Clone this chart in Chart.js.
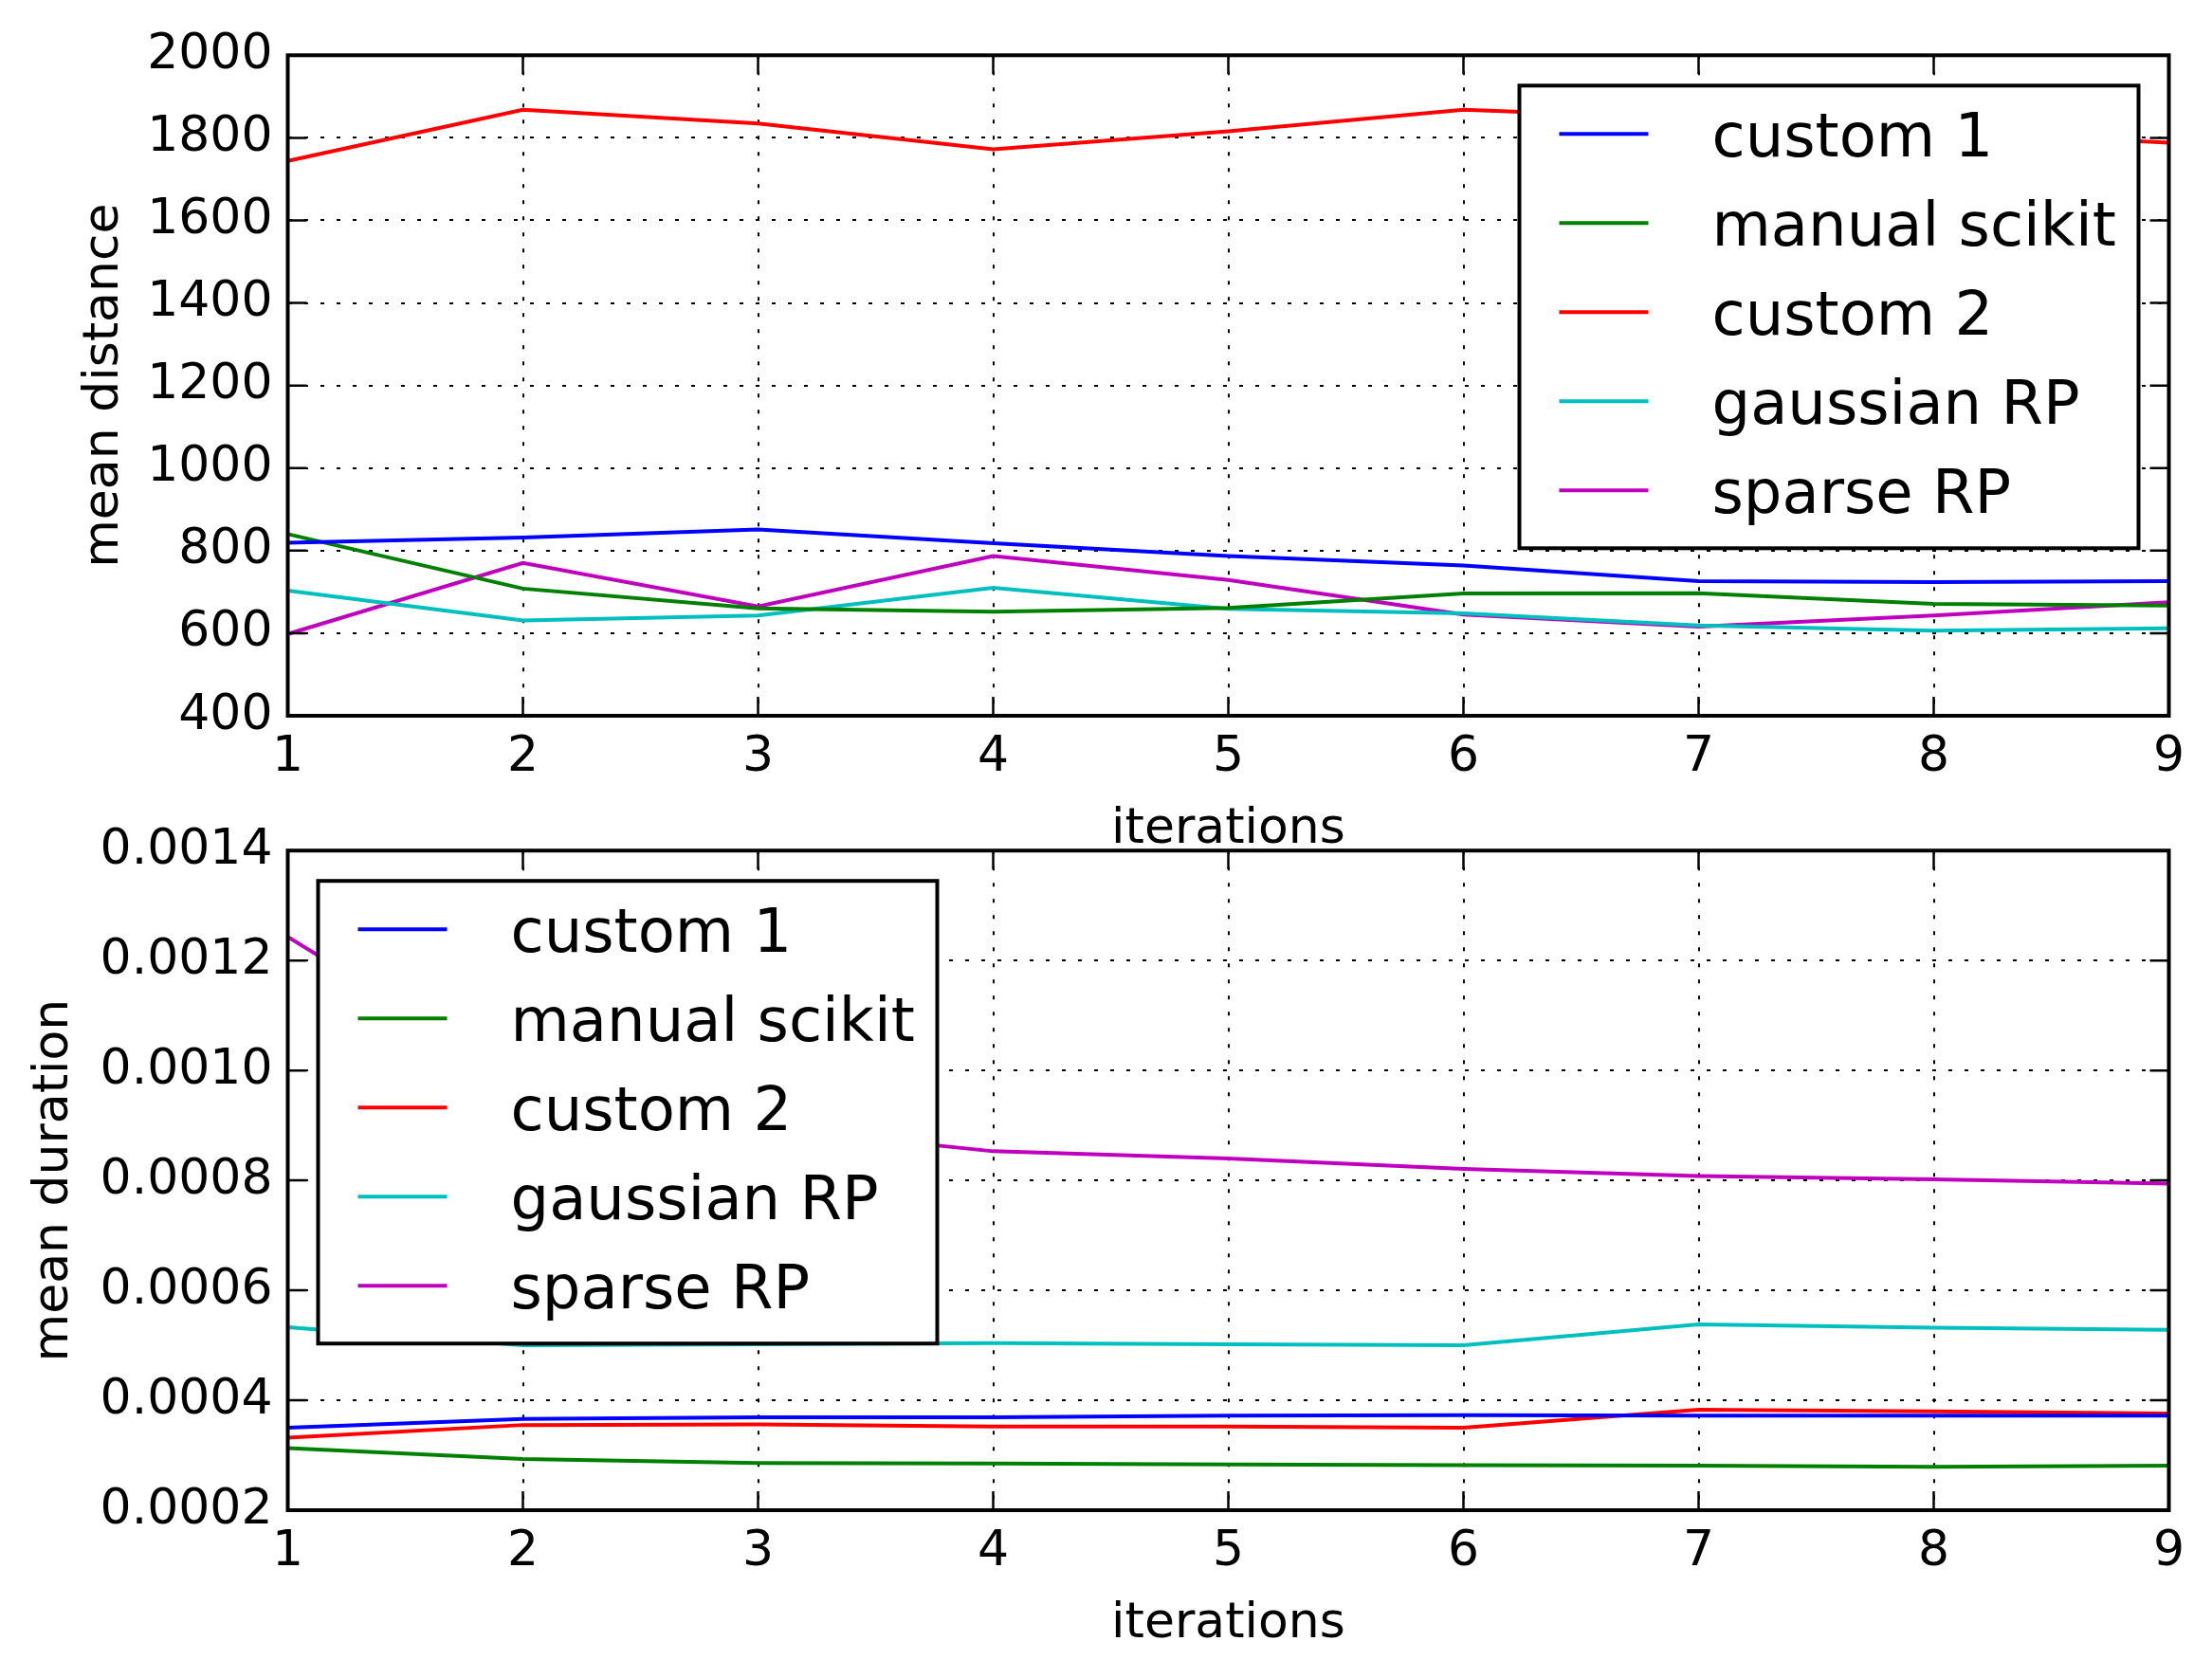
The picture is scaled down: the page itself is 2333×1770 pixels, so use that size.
<!DOCTYPE html>
<html><head><meta charset="utf-8">
<script src="https://cdn.jsdelivr.net/npm/chart.js@4.4.1/dist/chart.umd.min.js"></script>
<style>
html,body{margin:0;padding:0;background:#fff;}
body{width:2333px;height:1770px;position:relative;overflow:hidden;}
canvas{position:absolute;left:0;}
</style></head><body>
<canvas id="c1" width="2333" height="907" style="top:0px"></canvas>
<canvas id="c2" width="2333" height="895" style="top:850px"></canvas>
<script>
// ---------- data ----------
const iterations = [1, 2, 3, 4, 5, 6, 7, 8, 9];
const seriesNames = ['custom 1', 'manual scikit', 'custom 2', 'gaussian RP', 'sparse RP'];
const seriesColors = ['#0000ff', '#008000', '#ff0000', '#00bfbf', '#bf00bf'];

// mean distance (top panel)
const distCustom1  = [819, 832, 851, 818, 787, 764, 726, 724, 726];
const distManual   = [840, 708, 660, 652, 661, 696, 697, 671, 667];
const distCustom2  = [1744, 1868, 1835, 1772, 1816, 1868, 1847, 1816, 1788];
const distGaussian = [703, 631, 643, 710, 659, 648, 619, 606, 612];
const distSparse   = [598, 770, 665, 787, 729, 645, 616, 643, 675];

// mean duration (bottom panel)
const durCustom1  = [0.000350, 0.000366, 0.000369, 0.000369, 0.000372, 0.000373, 0.000372, 0.000372, 0.000372];
const durManual   = [0.000313, 0.000293, 0.000286, 0.000285, 0.000283, 0.000282, 0.000281, 0.000279, 0.000281];
const durCustom2  = [0.000332, 0.000355, 0.000356, 0.000352, 0.000352, 0.000350, 0.000383, 0.000380, 0.000376];
const durGaussian = [0.000533, 0.000500, 0.000502, 0.000504, 0.000502, 0.000500, 0.000538, 0.000532, 0.000528];
const durSparse   = [0.001243, 0.000980, 0.000897, 0.000853, 0.000840, 0.000821, 0.000808, 0.000802, 0.000794];

// tick labels
const distanceTicks = [400, 600, 800, 1000, 1200, 1400, 1600, 1800, 2000];
const durationTicks = [0.0002, 0.0004, 0.0006, 0.0008, 0.0010, 0.0012, 0.0014];
const distanceTickLabels = ['400', '600', '800', '1000', '1200', '1400', '1600', '1800', '2000'];
const durationTickLabels = ['0.0002', '0.0004', '0.0006', '0.0008', '0.0010', '0.0012', '0.0014'];

// ---------- plugins ----------
Chart.defaults.font.family = '"DejaVu Sans", sans-serif';
Chart.defaults.color = '#000';

const axesDecor = {
  id: 'axesDecor',
  afterDatasetsDraw(chart) {
    const {ctx, chartArea: a, scales: {x, y}} = chart;
    ctx.save();
    ctx.setLineDash([]);
    ctx.strokeStyle = '#000';
    ctx.lineWidth = 2.5;
    ctx.beginPath();
    x.ticks.forEach(t => {
      const px = x.getPixelForValue(t.value);
      ctx.moveTo(px, a.bottom); ctx.lineTo(px, a.bottom - 20);
      ctx.moveTo(px, a.top); ctx.lineTo(px, a.top + 20);
    });
    y.ticks.forEach(t => {
      const py = y.getPixelForValue(t.value);
      ctx.moveTo(a.left, py); ctx.lineTo(a.left + 20, py);
      ctx.moveTo(a.right, py); ctx.lineTo(a.right - 20, py);
    });
    ctx.stroke();
    ctx.lineWidth = 4;
    ctx.strokeRect(a.left, a.top, a.right - a.left, a.bottom - a.top);
    ctx.restore();
  }
};

const boxLegend = {
  id: 'boxLegend',
  afterDraw(chart, args, opts) {
    const {ctx, chartArea: a} = chart;
    const w = 653, h = 488, m = 32;
    const left = opts.side === 'right' ? a.right - m - w : a.left + m;
    const top = a.top + m;
    ctx.save();
    ctx.setLineDash([]);
    ctx.fillStyle = '#fff';
    ctx.fillRect(left, top, w, h);
    ctx.lineWidth = 4;
    ctx.strokeStyle = '#000';
    ctx.strokeRect(left, top, w, h);
    ctx.font = '64px "DejaVu Sans"';
    ctx.textBaseline = 'alphabetic';
    ctx.textAlign = 'left';
    chart.data.datasets.forEach((ds, i) => {
      const cy = top + 51 + i * 94;
      ctx.strokeStyle = ds.borderColor;
      ctx.lineWidth = 4;
      ctx.beginPath();
      ctx.moveTo(left + 42, cy);
      ctx.lineTo(left + 136, cy);
      ctx.stroke();
      ctx.fillStyle = '#000';
      ctx.fillText(ds.label, left + 203, cy + 23.5);
    });
    ctx.restore();
  }
};

function makeChart(id, seriesArrays, yTicks, yLabels, yTitle, titlePad, legendSide, padTop) {
  const datasets = seriesArrays.map((arr, i) => ({
    label: seriesNames[i],
    data: iterations.map((it, j) => ({x: it, y: arr[j]})),
    borderColor: seriesColors[i],
    backgroundColor: seriesColors[i],
    borderWidth: 4,
    pointRadius: 0,
    tension: 0,
    fill: false
  }));
  return new Chart(document.getElementById(id), {
    type: 'line',
    data: {datasets},
    options: {
      responsive: false,
      animation: false,
      devicePixelRatio: 1,
      layout: {padding: {top: padTop, right: 45.5, left: 0, bottom: 0}},
      plugins: {
        legend: {display: false},
        tooltip: {enabled: false},
        boxLegend: {side: legendSide}
      },
      scales: {
        x: {
          type: 'linear',
          min: iterations[0],
          max: iterations[iterations.length - 1],
          afterBuildTicks: s => { s.ticks = iterations.map(v => ({value: v})); },
          afterFit: s => { s.height = 152; },
          grid: {color: '#000', lineWidth: 2, drawTicks: false, borderDash: [4, 13]},
          border: {display: false, dash: [4, 13]},
          ticks: {
            color: '#000', font: {size: 52}, padding: 13, maxRotation: 0, autoSkip: false,
            callback: v => String(v)
          },
          title: {display: true, text: 'iterations', color: '#000', font: {size: 52}, padding: {top: 0, bottom: 0}}
        },
        y: {
          type: 'linear',
          min: yTicks[0],
          max: yTicks[yTicks.length - 1],
          afterBuildTicks: s => { s.ticks = yTicks.map(v => ({value: v})); },
          afterFit: s => { s.width = 303.5; },
          grid: {color: '#000', lineWidth: 2, drawTicks: false, borderDash: [4, 13]},
          border: {display: false, dash: [4, 13]},
          ticks: {
            color: '#000', font: {size: 52}, padding: 16, autoSkip: false,
            callback: (v, idx) => yLabels[idx]
          },
          title: {display: true, text: yTitle, color: '#000', font: {size: 52}, padding: {top: titlePad, bottom: 0}}
        }
      }
    },
    plugins: [axesDecor, boxLegend]
  });
}

makeChart('c1', [distCustom1, distManual, distCustom2, distGaussian, distSparse],
  distanceTicks, distanceTickLabels, 'mean distance', 79.5, 'right', 58.3);
makeChart('c2', [durCustom1, durManual, durCustom2, durGaussian, durSparse],
  durationTicks, durationTickLabels, 'mean duration', 26.5, 'left', 46.7);
</script>
</body></html>
